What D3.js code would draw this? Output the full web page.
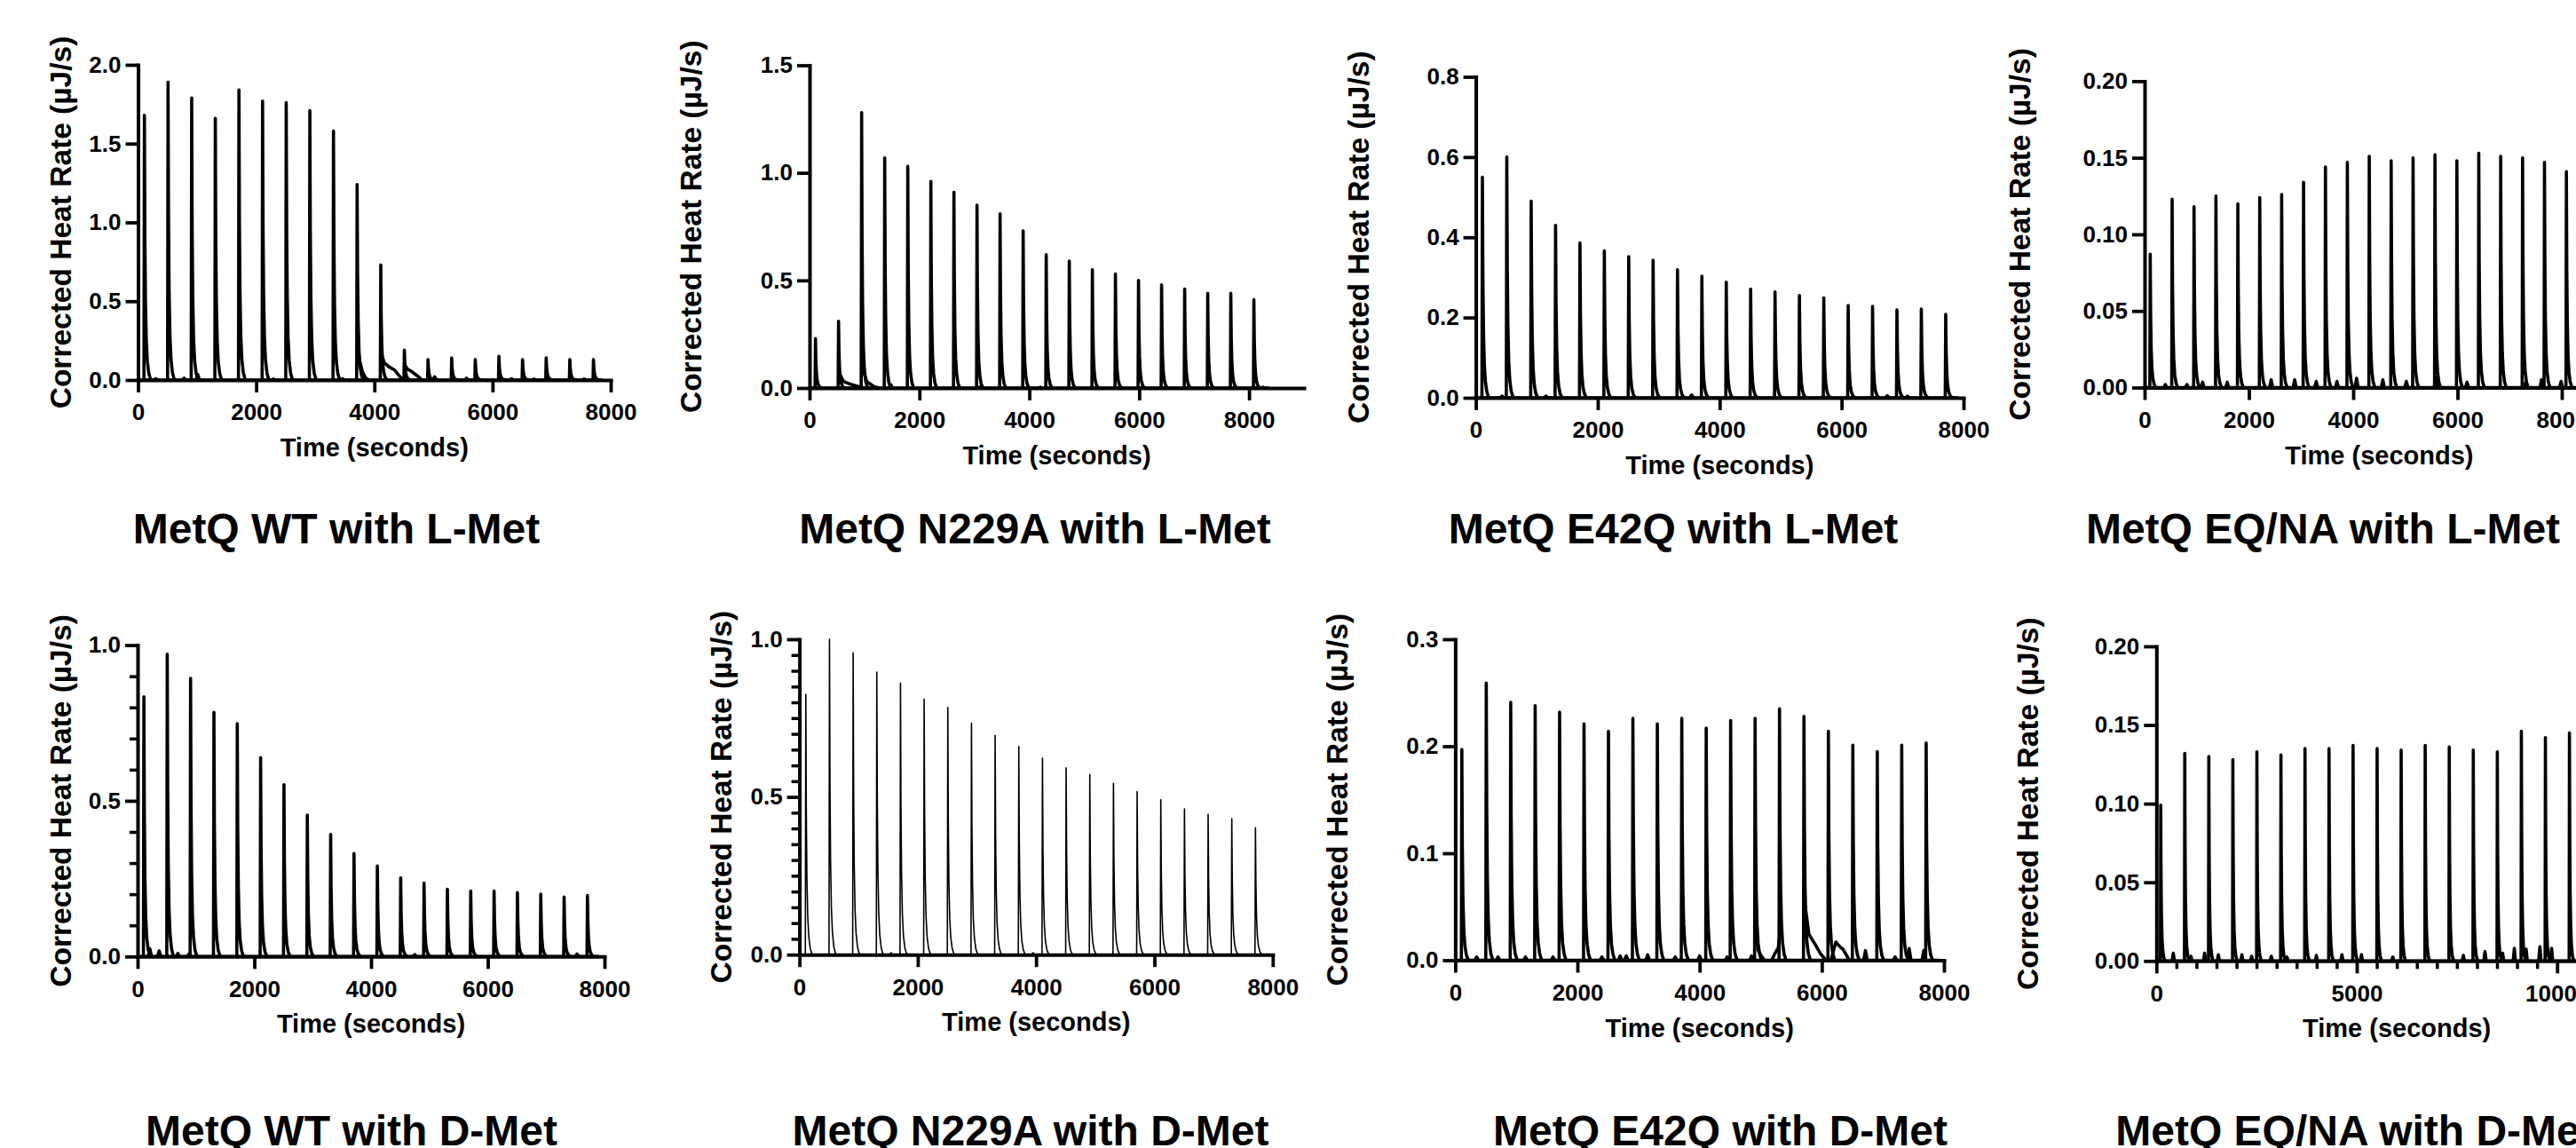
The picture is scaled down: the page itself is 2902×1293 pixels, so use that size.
<!DOCTYPE html>
<html><head><meta charset="utf-8">
<script src="https://cdn.jsdelivr.net/npm/d3@7"></script>
<style>
html,body{margin:0;padding:0;background:#fff;}
svg{display:block;}
</style></head><body>
<svg id="c" width="2902" height="1293"></svg>
<script>
// ---------------- DATA ----------------
const panelTitles = ["MetQ WT with L-Met","MetQ N229A with L-Met","MetQ E42Q with L-Met","MetQ EQ/NA with L-Met",
                     "MetQ WT with D-Met","MetQ N229A with D-Met","MetQ E42Q with D-Met","MetQ EQ/NA with D-Met"];
const xAxisTitle = "Time (seconds)";
const yAxisTitle = "Corrected Heat Rate (µJ/s)";

// injection times (s)
const inj400 = [100,500,900,1300,1700,2100,2500,2900,3300,3700,4100,4500,4900,5300,5700,6100,6500,6900,7300,7700];
const inj420 = [100,520,940,1360,1780,2200,2620,3040,3460,3880,4300,4720,5140,5560,5980,6400,6820,7240,7660,8080];
const inj600 = [100,700,1300,1900,2500,3100,3700,4300,4900,5500,6100,6700,7300,7900,8500,9100,9700,10300];

// peak heights (µJ/s)
const peaksWT_L    = [1.68,1.89,1.79,1.66,1.84,1.77,1.76,1.71,1.58,1.24,0.73,0.19,0.13,0.14,0.13,0.15,0.13,0.14,0.13,0.13];
const peaksN229A_L = [0.23,0.31,1.28,1.07,1.03,0.96,0.91,0.85,0.81,0.73,0.62,0.59,0.55,0.53,0.50,0.48,0.46,0.44,0.44,0.41];
const peaksE42Q_L  = [0.55,0.60,0.49,0.43,0.386,0.366,0.352,0.343,0.319,0.303,0.288,0.271,0.264,0.255,0.249,0.230,0.228,0.219,0.221,0.208];
const peaksEQNA_L  = [0.087,0.123,0.118,0.125,0.120,0.124,0.126,0.134,0.144,0.147,0.151,0.148,0.150,0.152,0.148,0.153,0.151,0.150,0.147,0.141];
const peaksWT_D    = [0.834,0.971,0.893,0.784,0.748,0.639,0.552,0.454,0.392,0.331,0.291,0.252,0.236,0.216,0.210,0.210,0.205,0.200,0.191,0.196];
const peaksN229A_D = [0.825,1.0,0.957,0.896,0.861,0.81,0.784,0.734,0.695,0.66,0.623,0.592,0.571,0.543,0.517,0.491,0.462,0.445,0.431,0.402];
const peaksE42Q_D  = [0.197,0.259,0.241,0.238,0.232,0.221,0.214,0.226,0.221,0.226,0.217,0.224,0.226,0.235,0.228,0.214,0.201,0.195,0.201,0.203];
const peaksEQNA_D  = [0.099,0.132,0.130,0.128,0.133,0.131,0.135,0.135,0.137,0.135,0.134,0.137,0.136,0.134,0.133,0.146,0.142,0.145];

// shape of one injection peak: time after injection (s) and fraction of peak height
const pulseDt   = [0, 8, 16, 26, 40, 58, 82, 115];
const pulseFrac = [0, 1, 0.55, 0.30, 0.15, 0.07, 0.025, 0];

// slow tails (time s, µJ/s)
const tailsWT_L = [
  [[3720,0.20],[3753,0.12],[3800,0.05],[3850,0.015],[3900,0]],
  [[4130,0.15],[4172,0.108],[4242,0.085],[4347,0.062],[4416,0.028],[4486,0]],
  [[4525,0.09],[4556,0.07],[4626,0.055],[4696,0.035],[4766,0.015],[4800,0]]
];
const tailsN229A_L = [
  [[560,0.06],[620,0.03],[740,0.018],[900,0.006],[1000,0]],
  [[980,0.08],[1040,0.03],[1150,0.01],[1250,0]]
];
const tailsE42Q_D = [
  [[4930,0.02],[4960,0.009],[5000,0.005],[5060,0]],
  [[5180,0],[5230,0.006],[5290,0.012],[5300,0.02]],
  [[5730,0.05],[5790,0.024],[5890,0.015],[5980,0.006],[6070,0]],
  [[6150,0],[6230,0.017],[6290,0.013],[6350,0.01],[6450,0]]
];

// small baseline bumps (time s, µJ/s)
const bumpsWT_L = [[300,0.008],[780,0.012],[1010,0.035],[2290,0.006],[3460,0.008],[5020,0.02],[5560,0.012],[6320,0.008],[6700,0.006],[7550,0.006]];
const bumpsN229A_L = [[1480,0.015],[3100,0.005],[4200,0.004],[6900,0.004],[8250,0.004]];
const bumpsE42Q_L = [[430,0.004],[1150,0.004],[3540,0.007],[5700,0.004],[6750,0.005],[7080,0.004]];
const bumpsEQNA_L = [[398,0.002],[811,0.002],[1112,0.0035],[1585,0.0035],[2427,0.005],[2878,0.005],[3291,0.004],[3689,0.004],
                     [4065,0.006],[4568,0.005],[5019,0.004],[5582,0.007],[6183,0.0035],[7310,0.0035],[7611,0.005],[7987,0.004]];
const bumpsWT_D = [[210,0.025],[370,0.018],[690,0.01],[880,0.008],[4750,0.006],[7530,0.008]];
const bumpsN229A_D = [[1550,0.006],[3950,0.006]];
const bumpsE42Q_D = [[350,0.003],[700,0.003],[1150,0.003],[1600,0.003],[2400,0.003],[2700,0.004],[2800,0.004],[3150,0.005],
                     [3600,0.003],[4000,0.004],[4450,0.003],[4850,0.004],[6715,0.009],[7200,0.003],[7430,0.011],[7670,0.009]];
const bumpsEQNA_D = [[421,0.005],[861,0.003],[1203,0.005],[1546,0.004],[2133,0.004],[2378,0.003],[2867,0.003],[3258,0.0025],
                     [3992,0.0035],[4630,0.004],[5117,0.004],[5900,0.0025],[7661,0.0035],[8200,0.006],[8640,0.005],[8933,0.008],
                     [9227,0.0075],[9570,0.009],[9863,0.008]];

// tick labels
const xTicks8000 = [0,2000,4000,6000,8000];
const xTicks10000 = [0,5000,10000];
const yTicks20 = [0,0.5,1.0,1.5,2.0];
const yTicks15 = [0,0.5,1.0,1.5];
const yTicks08 = [0,0.2,0.4,0.6,0.8];
const yTicks020 = [0,0.05,0.10,0.15,0.20];
const yTicks10 = [0,0.5,1.0];
const yTicks03 = [0,0.1,0.2,0.3];

// ---------------- LAYOUT ----------------
const FONT = '"Liberation Sans", Arial, Helvetica, sans-serif';
const panels = [
  {title:panelTitles[0], times:inj400, peaks:peaksWT_L, tails:tailsWT_L, bumps:bumpsWT_L,
   x0:155.5, x1:688, xMax:8000, xTicks:xTicks8000, yt:73, yb:428, yMax:2.0, yTicks:yTicks20, fmt:".1f",
   ylx:80, tx:379, ty:612, lw:3.6, traceEnd:7850},
  {title:panelTitles[1], times:inj420, peaks:peaksN229A_L, tails:tailsN229A_L, bumps:bumpsN229A_L,
   x0:912, x1:1469, xMax:9000, xTicks:xTicks8000, yt:73.5, yb:437, yMax:1.5, yTicks:yTicks15, fmt:".1f",
   ylx:790, tx:1166, ty:612, lw:3.6, traceEnd:8350},
  {title:panelTitles[2], times:inj400, peaks:peaksE42Q_L, bumps:bumpsE42Q_L,
   x0:1662.6, x1:2212, xMax:8000, xTicks:xTicks8000, yt:86.5, yb:448, yMax:0.8, yTicks:yTicks08, fmt:".1f",
   ylx:1541.5, tx:1885, ty:612, lw:3.6, traceEnd:7900},
  {title:panelTitles[3], times:inj420, peaks:peaksEQNA_L, bumps:bumpsEQNA_L,
   x0:2416, x1:2944.75, xMax:9000, xTicks:xTicks8000, yt:91.4, yb:436.5, yMax:0.2, yTicks:yTicks020, fmt:".2f",
   ylx:2287, tx:2617, ty:612, lw:3.6, traceEnd:8400},
  {title:panelTitles[4], times:inj400, peaks:peaksWT_D, bumps:bumpsWT_D,
   x0:155, x1:681, xMax:8000, xTicks:xTicks8000, yt:726.6, yb:1077.3, yMax:1.0, yTicks:yTicks10, fmt:".1f", yMinorStep:0.1,
   ylx:80, tx:396, ty:1290, lw:3.6, traceEnd:7900},
  {title:panelTitles[5], times:inj400, peaks:peaksN229A_D, bumps:bumpsN229A_D,
   x0:900.6, x1:1433.8, xMax:8000, xTicks:xTicks8000, yt:720, yb:1075.2, yMax:1.0, yTicks:yTicks10, fmt:".1f", yMinorStep:0.05,
   ylx:824, tx:1161, ty:1290, lw:1.6, traceEnd:7900},
  {title:panelTitles[6], times:inj400, peaks:peaksE42Q_D, tails:tailsE42Q_D, bumps:bumpsE42Q_D,
   x0:1639.4, x1:2190, xMax:8000, xTicks:xTicks8000, yt:720, yb:1081.5, yMax:0.3, yTicks:yTicks03, fmt:".1f",
   ylx:1517.5, tx:1938, ty:1290, lw:3.6, traceEnd:7900},
  {title:panelTitles[7], times:inj600, peaks:peaksEQNA_D, bumps:bumpsEQNA_D,
   x0:2429.3, x1:2971, xMax:12000, xTicks:xTicks10000, xMinorStep:500, yt:728, yb:1082.3, yMax:0.2, yTicks:yTicks020, fmt:".2f",
   ylx:2296, tx:2653, ty:1290, lw:3.6, traceEnd:11000}
];

const svg = d3.select("#c");
svg.append("rect").attr("width",2902).attr("height",1293).attr("fill","#fff");

function styleAxis(sel, sw) {
  sel.attr("font-family", FONT).attr("font-weight","bold").attr("font-size",26);
  sel.select(".domain").attr("stroke","#000").attr("stroke-width",4).attr("stroke-linecap","square");
  sel.selectAll(".tick line").attr("stroke","#000").attr("stroke-width",sw);
  sel.selectAll(".tick text").attr("fill","#000");
}

panels.forEach(p => {
  const x = d3.scaleLinear().domain([0, p.xMax]).range([p.x0, p.x1]);
  const y = d3.scaleLinear().domain([0, p.yMax]).range([p.yb, p.yt]);
  const g = svg.append("g");
  const line = d3.line().x(d => x(d[0])).y(d => y(d[1]));

  const tg = g.append("g").attr("fill","none").attr("stroke","#000")
    .attr("stroke-width", p.lw).attr("stroke-linejoin","round").attr("stroke-linecap","round");
  tg.append("path").attr("d", line([[0,0],[p.traceEnd,0]]));
  (p.bumps||[]).forEach(b => tg.append("path").attr("d", line([[b[0]-30,0],[b[0],b[1]],[b[0]+30,0]])));
  (p.tails||[]).forEach(seg => tg.append("path").attr("d", line(seg)));
  p.times.forEach((t,i) => {
    const h = p.peaks[i];
    tg.append("path").attr("d", line(pulseDt.map((dt,k) => [t+dt, h*pulseFrac[k]])));
  });

  // minor ticks
  if (p.yMinorStep) {
    const n = Math.round(p.yMax / p.yMinorStep);
    const vals = d3.range(0, n+1).map(k => +(k*p.yMinorStep).toFixed(4)).filter(v => !p.yTicks.some(t => Math.abs(t-v)<1e-6));
    const ma = g.append("g").attr("transform",`translate(${p.x0},0)`)
      .call(d3.axisLeft(y).tickValues(vals).tickSize(9).tickFormat(""));
    ma.select(".domain").remove();
    ma.selectAll(".tick line").attr("stroke","#000").attr("stroke-width",3.5);
  }
  if (p.xMinorStep) {
    const n = Math.round(p.xMax / p.xMinorStep);
    const vals = d3.range(0, n+1).map(k => k*p.xMinorStep).filter(v => !p.xTicks.includes(v));
    const ma = g.append("g").attr("transform",`translate(0,${p.yb})`)
      .call(d3.axisBottom(x).tickValues(vals).tickSize(9).tickFormat(""));
    ma.select(".domain").remove();
    ma.selectAll(".tick line").attr("stroke","#000").attr("stroke-width",3.5);
  }

  const xa = g.append("g").attr("transform",`translate(0,${p.yb})`)
    .call(d3.axisBottom(x).tickValues(p.xTicks).tickSize(14).tickSizeOuter(0).tickPadding(13).tickFormat(d3.format("d")));
  styleAxis(xa, 3.8);
  const ya = g.append("g").attr("transform",`translate(${p.x0},0)`)
    .call(d3.axisLeft(y).tickValues(p.yTicks).tickSize(14).tickSizeOuter(0).tickPadding(5).tickFormat(d3.format(p.fmt)));
  styleAxis(ya, 3.8);

  // axis titles
  g.append("text").attr("x",(p.x0+p.x1)/2).attr("y",p.yb+86).attr("text-anchor","middle")
    .attr("font-family",FONT).attr("font-weight","bold").attr("font-size",29).text(xAxisTitle);
  g.append("text").attr("transform",`translate(${p.ylx},${(p.yt+p.yb)/2}) rotate(-90)`).attr("text-anchor","middle")
    .attr("font-family",FONT).attr("font-weight","bold").attr("font-size",33.5).text(yAxisTitle);
  // panel title
  g.append("text").attr("x",p.tx).attr("y",p.ty).attr("text-anchor","middle")
    .attr("font-family",FONT).attr("font-weight","bold").attr("font-size",48).text(p.title);
});
</script>
</body></html>
